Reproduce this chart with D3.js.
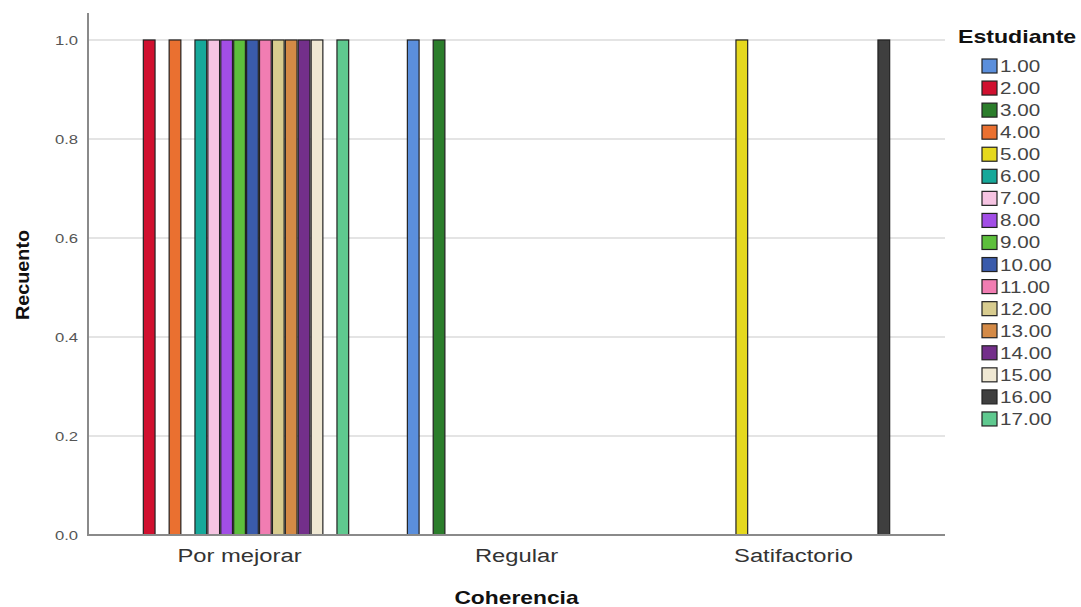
<!DOCTYPE html>
<html>
<head>
<meta charset="utf-8">
<script src="https://cdn.jsdelivr.net/npm/d3@7"></script>
<style>
  html, body { margin: 0; padding: 0; background: #fff; }
  svg { display: block; font-family: "Liberation Sans", Arial, sans-serif; }
</style>
</head>
<body>
<svg id="chart" width="1081" height="607"></svg>
<script>
// ---- data ----
const categories = ["Por mejorar", "Regular", "Satifactorio"];
const students = ["1.00","2.00","3.00","4.00","5.00","6.00","7.00","8.00","9.00",
                  "10.00","11.00","12.00","13.00","14.00","15.00","16.00","17.00"];
// count per student (index matches students) for each Coherencia category
const countsPorMejorar  = [0,1,0,1,0,1,1,1,1,1,1,1,1,1,1,0,1];
const countsRegular     = [1,0,1,0,0,0,0,0,0,0,0,0,0,0,0,0,0];
const countsSatifactorio= [0,0,0,0,1,0,0,0,0,0,0,0,0,0,0,1,0];
const studentColors = ["#5b8fdc","#d0102f","#2b7d2b","#ea7030","#e5d81e","#16a89a",
                       "#f6c4e2","#a24ee6","#5dbf3c","#3a5bab","#f17db2","#d8cc8f",
                       "#d48a46","#732f8a","#efe8d3","#3f3f3f","#5fc98f"];
const yTicks = [0, 0.2, 0.4, 0.6, 0.8, 1.0];

const countsByCategory = [countsPorMejorar, countsRegular, countsSatifactorio];
const rows = [];
categories.forEach((c, ci) => {
  countsByCategory[ci].forEach((v, si) => {
    if (v > 0) rows.push({ category: c, student: students[si], value: v, color: studentColors[si] });
  });
});

// ---- layout ----
const svg = d3.select("#chart");
const mLeft = 88, mRight = 945, mBottom = 535, mTop = 13;

const x0 = d3.scaleBand().domain(categories).range([mLeft, mRight])
  .paddingInner(0.2076).paddingOuter(0.151);
const x1 = d3.scaleBand().domain(students).range([0, x0.bandwidth()]);
const y = d3.scaleLinear().domain([0, 1.0545]).range([mBottom, mTop]);
const color = d3.scaleOrdinal().domain(students).range(studentColors);

function stretch(sel, k) {
  sel.each(function() {
    const w = this.getComputedTextLength();
    d3.select(this).attr("textLength", w * k).attr("lengthAdjust", "spacingAndGlyphs");
  });
}

// gridlines
svg.append("g")
  .selectAll("line").data(yTicks.filter(d => d > 0)).join("line")
  .attr("x1", mLeft).attr("x2", mRight)
  .attr("y1", d => y(d)).attr("y2", d => y(d))
  .attr("stroke", "#c9c9c9").attr("stroke-width", 1.2);

// bars
svg.append("g")
  .selectAll("rect").data(rows).join("rect")
  .attr("x", d => x0(d.category) + x1(d.student) + 0.6)
  .attr("y", d => y(d.value))
  .attr("width", x1.bandwidth() - 1.2)
  .attr("height", d => y(0) - y(d.value))
  .attr("fill", d => color(d.student))
  .attr("stroke", "#222").attr("stroke-width", 1.2);

// y axis
const yAxis = d3.axisLeft(y).tickValues(yTicks).tickFormat(d3.format(".1f")).tickSize(0).tickPadding(10);
const gy = svg.append("g").attr("transform", `translate(${mLeft},0)`).call(yAxis);
gy.select(".domain").remove();
gy.selectAll("text").attr("font-size", 13).attr("fill", "#555").attr("font-family", "Liberation Sans, Arial, sans-serif")
  .attr("dy", "0.36em").call(stretch, 1.28);
svg.append("line").attr("x1", mLeft).attr("x2", mLeft).attr("y1", mTop).attr("y2", mBottom + 1)
  .attr("stroke", "#8a8a8a").attr("stroke-width", 2);

// x axis
const xAxis = d3.axisBottom(x0).tickSize(0).tickPadding(14);
const gx = svg.append("g").attr("transform", `translate(0,${mBottom})`).call(xAxis);
gx.select(".domain").remove();
gx.selectAll("text").attr("font-size", 18).attr("fill", "#333").attr("font-family", "Liberation Sans, Arial, sans-serif")
  .attr("dy", "0.71em").call(stretch, 1.32);
svg.append("line").attr("x1", mLeft - 1).attr("x2", mRight).attr("y1", mBottom).attr("y2", mBottom)
  .attr("stroke", "#8a8a8a").attr("stroke-width", 2);

// axis titles
svg.append("text").attr("x", (mLeft + mRight) / 2).attr("y", 604)
  .attr("text-anchor", "middle").attr("font-weight", "bold").attr("font-size", 19).attr("fill", "#111")
  .text("Coherencia").call(stretch, 1.2);
svg.append("text").attr("transform", `translate(29,275) rotate(-90)`)
  .attr("text-anchor", "middle").attr("font-weight", "bold").attr("font-size", 18).attr("fill", "#111")
  .text("Recuento").call(stretch, 1.1);

// legend
const lg = svg.append("g");
lg.append("text").attr("x", 958).attr("y", 43).attr("font-weight", "bold").attr("font-size", 18.5)
  .attr("fill", "#111").text("Estudiante").call(stretch, 1.25);
const item = lg.selectAll("g.item").data(students).join("g").attr("class", "item")
  .attr("transform", (d, i) => `translate(0,${66 + i * 22.06})`);
item.append("rect").attr("x", 982).attr("y", -7).attr("width", 15).attr("height", 14)
  .attr("fill", d => color(d)).attr("stroke", "#222").attr("stroke-width", 1.2);
item.append("text").attr("x", 1000).attr("y", 6).attr("font-size", 16.5).attr("fill", "#444")
  .text(d => d).call(stretch, 1.25);
</script>
</body>
</html>
